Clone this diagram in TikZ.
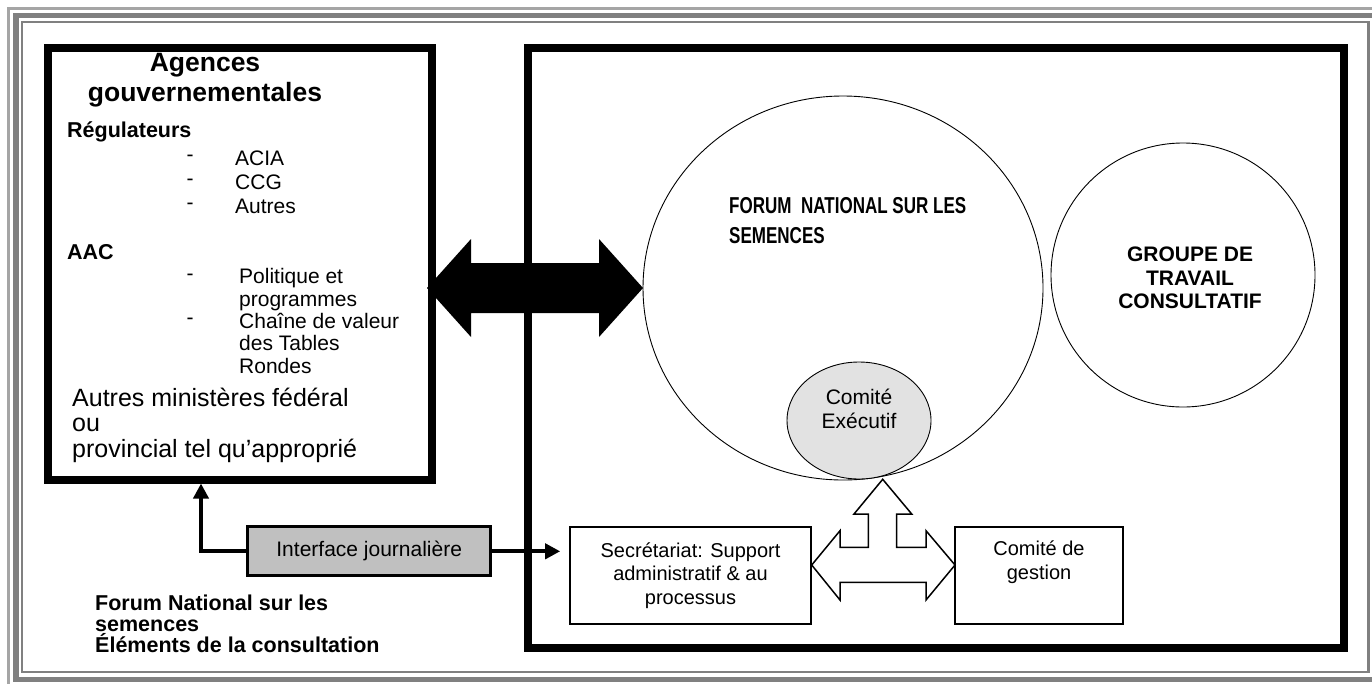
\documentclass[tikz,border=0pt]{standalone}
\usepackage{fontspec}
\setmainfont{Liberation Sans}
\newfontfamily\narrowfont[FakeStretch=0.74]{Liberation Sans}
\usetikzlibrary{arrows.meta,shapes.geometric}
\definecolor{ifacegray}{RGB}{192,192,192}
\definecolor{cefill}{RGB}{226,226,226}
\definecolor{framegray}{RGB}{128,128,128}
\definecolor{framelight}{RGB}{165,165,165}
\newcommand\setfs[2]{\fontsize{#1}{#2}\selectfont}
\tikzset{
  bigbox/.style={draw=black, line width=8pt, rectangle, inner sep=0pt},
  smallbox/.style={draw=black, line width=1.6pt, rectangle, inner sep=0pt, fill=white},
  thinellipse/.style={draw=black, line width=0.9pt, ellipse, inner sep=0pt},
  txt/.style={inner sep=0pt, font=\setfs{21}{24}},
  conn/.style={line width=4pt, -{Triangle[length=15pt,width=15pt]}},
}
\begin{document}
\begin{tikzpicture}[x=1pt,y=-1pt]
\useasboundingbox (0,0) rectangle (1372,683);
\clip (0,0) rectangle (1372,683);
% page frame
\draw[framelight, line width=3pt] (8.5,8.5) rectangle (1390,700);
\draw[framegray, line width=5.5pt] (16,15.5) rectangle (1382,679.5);
\draw[framegray, line width=2.5pt] (22,22) rectangle (1368.5,672);

% main boxes
\node[bigbox, minimum width=384, minimum height=432] (agbox) at (239.5,263.5) {};
\node[bigbox, minimum width=816, minimum height=600] (rbox) at (935.5,347.5) {};

% circles
\node[thinellipse, minimum width=400, minimum height=384] (forum) at (843,288) {};
\node[thinellipse, minimum width=264, minimum height=264] (gtc) at (1183,275) {};
\node[thinellipse, fill=cefill, minimum width=144, minimum height=117] (ce) at (859,420.5) {};

% left box texts
\node[inner sep=0pt, font=\bfseries\setfs{26.5}{30}, align=center] (title) at (205,80) {Agences\\gouvernementales};
\node[txt, font=\bfseries\setfs{21.5}{24}, anchor=west] (regl) at (67,132) {Régulateurs};
\node[txt, align=center] (dash1) at (190,182) {-\\-\\-};
\node[txt, align=left, anchor=west] (reglist) at (235,182) {ACIA\\CCG\\Autres};
\node[txt, font=\bfseries\setfs{21.5}{24}, anchor=west] (aac) at (67,252) {AAC};
\node[txt] (dash2) at (190,277) {-};
\node[txt] (dash3) at (190,321) {-};
\node[txt, font=\setfs{21}{22.3}, align=left, anchor=west] (aaclist) at (239,321) {Politique et\\programmes\\Chaîne de valeur\\des Tables\\Rondes};
\node[txt, font=\setfs{25}{25.5}, align=left, anchor=west] (autres) at (72,425) {Autres ministères fédéral\\ou\\provincial tel qu’approprié};

% footer
\node[txt, font=\bfseries\setfs{21.5}{21}, align=left, anchor=west] (foot) at (95,624) {Forum National sur les\\semences\\Éléments de la consultation};

% right texts
\node[txt, font=\narrowfont\bfseries\setfs{23}{30}, align=left, anchor=west] (forumtxt) at (729,221) {FORUM\ \ NATIONAL SUR LES\\SEMENCES};
\node[txt, font=\bfseries\setfs{21}{23.5}, align=center] (gtctxt) at (1190,278) {GROUPE DE\\TRAVAIL\\CONSULTATIF};
\node[txt, align=center] (cetxt) at (859,409) {Comité\\Exécutif};

% lower boxes
\node[smallbox, minimum width=241, minimum height=97, align=center, font=\setfs{20}{23.5}] (sec) at (690.5,575.5) {Secrétariat: Support\\administratif \& au\\processus};
\node[smallbox, minimum width=168, minimum height=97, align=center, font=\setfs{20}{23.5}] (gest) at (1039,575.5) {Comité de\\gestion\\\strut};
\node[draw=black, line width=3pt, fill=ifacegray, minimum width=243, minimum height=49, inner sep=0pt, font=\setfs{21}{24}] (iface) at (369.2,551.3) {Interface journalière};

% black double arrow between agencies and forum
\fill[black] (427,288) -- (471,239) -- (471,263) -- (599,263) -- (599,239) -- (643,288)
  -- (599,337) -- (599,313) -- (471,313) -- (471,337) -- cycle;

% hollow three-way arrow
\draw[line width=1.5pt, fill=white, line join=miter]
  (882.7,479.3) -- (911.7,514) -- (896.7,514) -- (896.7,547.3) -- (926,547.3) -- (926,530.7)
  -- (955,565) -- (926,600) -- (926,582.3) -- (840,582.3) -- (840,600) -- (811.7,565)
  -- (840,530.7) -- (840,547.3) -- (868.3,547.3) -- (868.3,514) -- (854,514) -- cycle;

% connectors from the interface
\coordinate (lbx) at (201,0);
\draw[conn] (iface.west) -| (agbox.south -| lbx);
\draw[conn, shorten >=9pt] (iface.east) -- (iface.east -| sec.west);
\end{tikzpicture}
\end{document}
